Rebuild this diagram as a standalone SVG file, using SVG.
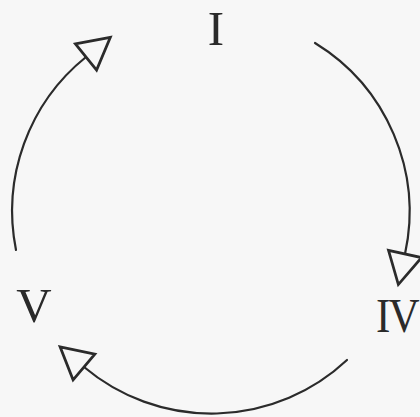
<svg xmlns="http://www.w3.org/2000/svg" width="420" height="417" viewBox="0 0 420 417">
  <style>
    .lbl { font-family: "Liberation Serif", "Times New Roman", serif; font-size: 49px; fill: #2a2a2a; }
    .arc { fill: none; stroke: #2b2b2b; stroke-width: 2.2; stroke-linecap: round; }
  </style>
  <defs>
    <marker id="tri" markerUnits="userSpaceOnUse" markerWidth="40" markerHeight="40" viewBox="-2 -16 30 32" refX="0" refY="0" orient="auto" overflow="visible">
      <path d="M0,-13.5 L25,0 L0,13.5 Z" fill="#f7f7f7" stroke="#2b2b2b" stroke-width="2.2" stroke-linejoin="miter"/>
    </marker>
  </defs>
  <rect x="0" y="0" width="420" height="417" fill="#f7f7f7"/>
  <g id="connectors">
    <path class="arc" d="M315,43 A198,198 0 0 1 405,254" marker-end="url(#tri)"/>
    <path class="arc" d="M347,360 A198,198 0 0 1 84,367" marker-end="url(#tri)"/>
    <path class="arc" d="M16,250 A198,198 0 0 1 86,57" marker-end="url(#tri)"/>
  </g>
  <g id="node-I"><text class="lbl" x="216" y="45" text-anchor="middle">I</text></g>
  <g id="node-IV"><text class="lbl" transform="translate(376,332) scale(0.88,1)" x="0" y="0" letter-spacing="-2">IV</text></g>
  <g id="node-V"><text class="lbl" x="34" y="322" text-anchor="middle">V</text></g>
</svg>
